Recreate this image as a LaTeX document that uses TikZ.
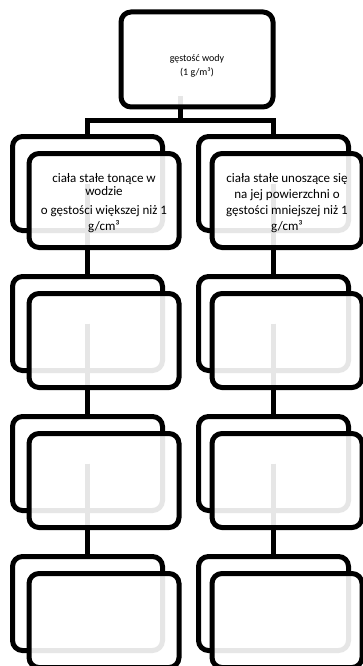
\documentclass[tikz,border=0pt]{standalone}
\usepackage{fontspec}
\setmainfont{Carlito}
\usetikzlibrary{positioning,calc}
\pgfdeclarelayer{lv1}
\pgfdeclarelayer{lv2}
\pgfdeclarelayer{lv3}
\pgfdeclarelayer{lv4}
\pgfsetlayers{lv1,lv2,lv3,lv4,main}

\begin{document}
\begin{tikzpicture}[x=1pt, y=-1pt, font=\fontsize{13}{16}\selectfont,
    tlo/.style={draw=black, line width=5pt, rounded corners=10pt, fill=white,
      minimum width=150pt, minimum height=94pt, inner sep=0pt},
    przod/.style={tlo, fill opacity=0.9, text opacity=1, align=center},
    lacznik/.style={draw=black, line width=5pt}]
  \useasboundingbox (0,0) rectangle (363,666);
  % tylne prostokaty
  \foreach \i/\y in {1/183.5, 2/323.5, 3/463.5, 4/603.5} {
    \begin{pgfonlayer}{lv\i}
      \node[tlo] (bl\i) at (87.5,\y) {};
      \node[tlo] (br\i) at (273.5,\y) {};
    \end{pgfonlayer}
  }
  % laczniki miedzy poziomami
  \foreach \i/\j in {1/2, 2/3, 3/4} {
    \begin{pgfonlayer}{lv\i}
      \draw[lacznik] (bl\i.center) -- (bl\j.north);
      \draw[lacznik] (br\i.center) -- (br\j.north);
    \end{pgfonlayer}
  }
  % przednie prostokaty
  \begin{pgfonlayer}{lv1}
    \node[przod] (fl1) at ($(bl1.center)+(16.5,17)$) {\rule{0pt}{14pt}ciała stałe tonące w\\[-3pt]wodzie\\[3pt]o gęstości większej niż 1\\g/cm³};
    \node[przod] (fr1) at ($(br1.center)+(13.5,17)$) {\rule{0pt}{14pt}ciała stałe unoszące się\\na jej powierzchni o\\gęstości mniejszej niż 1\\g/cm³};
  \end{pgfonlayer}
  \foreach \i in {2,3,4} {
    \begin{pgfonlayer}{lv\i}
      \node[przod] (fl\i) at ($(bl\i.center)+(16.5,17)$) {};
      \node[przod] (fr\i) at ($(br\i.center)+(13.5,17)$) {};
    \end{pgfonlayer}
  }
  % korzen
  \coordinate (rc) at (180,96);
  \coordinate (rj) at (180,121);
  \draw[lacznik] (rc) -- (rj) -| (bl1.north);
  \draw[lacznik] (rj) -| (br1.north);
  \node[przod, minimum width=152pt, minimum height=95pt, font=\fontsize{10}{14}\selectfont]
    (root) at (197,59.5) {\rule{0pt}{19pt}gęstość wody\\(1 g/m³)};
\end{tikzpicture}
\end{document}
